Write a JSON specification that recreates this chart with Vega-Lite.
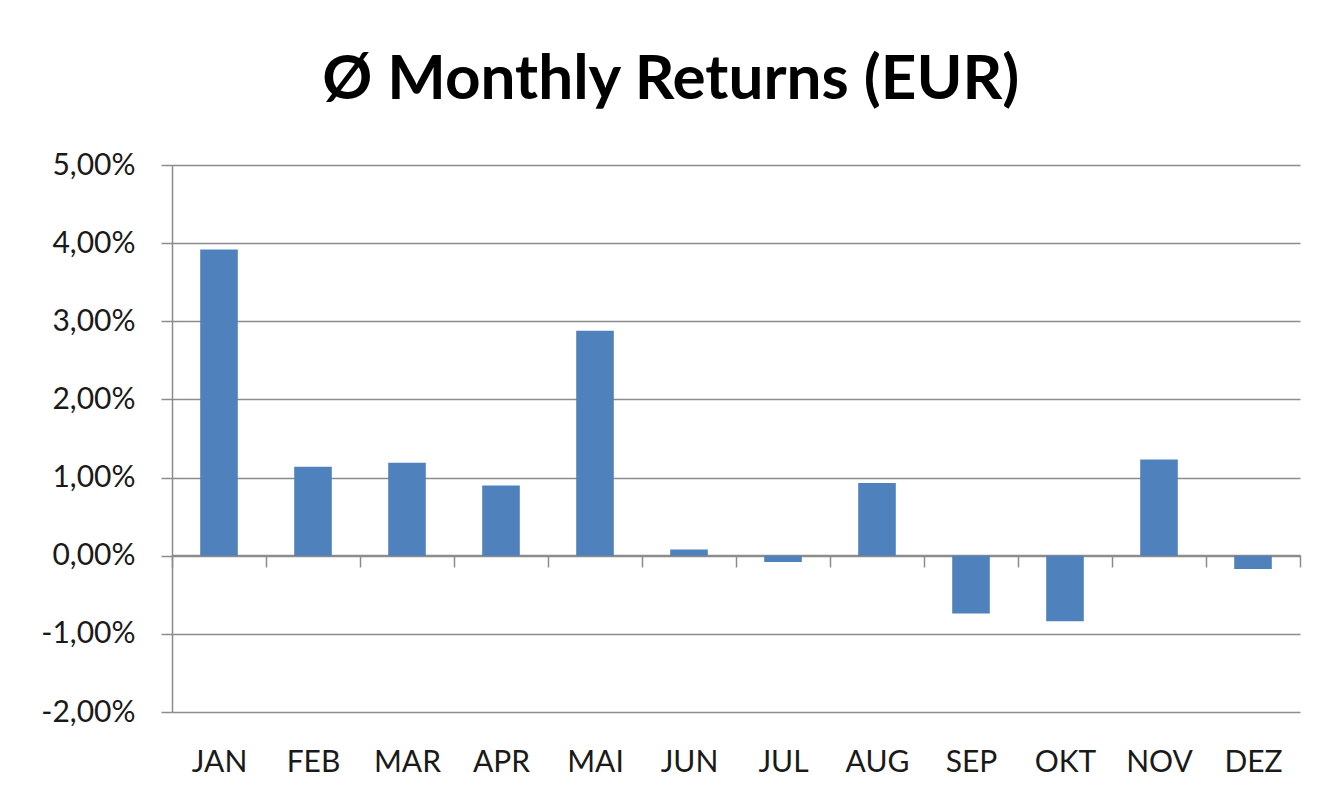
{
  "$schema": "https://vega.github.io/schema/vega-lite/v6.json",
  "width": 1128,
  "height": 547,
  "autosize": {"type": "none"},
  "padding": {"left": 172, "top": 165, "right": 26, "bottom": 86},
  "background": "white",
  "config": {
    "locale": {"number": {"decimal": ",", "thousands": ".", "grouping": [3], "currency": ["", " €"], "minus": "-"}},
    "view": {"stroke": null},
    "font": "Lato"
  },
  "title": {
    "text": "Ø Monthly Returns (EUR)",
    "font": "Lato",
    "fontSize": 62,
    "fontWeight": "bold",
    "color": "#000000",
    "anchor": "middle",
    "frame": "bounds",
    "offset": 38
  },
  "data": {
    "values": [
      {"month": "JAN", "ret": 0.0392},
      {"month": "FEB", "ret": 0.0114},
      {"month": "MAR", "ret": 0.0119},
      {"month": "APR", "ret": 0.0090},
      {"month": "MAI", "ret": 0.0288},
      {"month": "JUN", "ret": 0.0008},
      {"month": "JUL", "ret": -0.0008},
      {"month": "AUG", "ret": 0.0093},
      {"month": "SEP", "ret": -0.0074},
      {"month": "OKT", "ret": -0.0084},
      {"month": "NOV", "ret": 0.0123},
      {"month": "DEZ", "ret": -0.0017}
    ]
  },
  "mark": {"type": "bar", "color": "#4F81BD", "width": {"band": 0.4}},
  "encoding": {
    "x": {
      "field": "month",
      "type": "nominal",
      "sort": null,
      "scale": {"paddingInner": 0, "paddingOuter": 0},
      "axis": {
        "title": null,
        "labelAngle": 0,
        "labelFont": "Lato",
        "labelFontSize": 30,
        "labelColor": "#1a1a1a",
        "offset": -157,
        "domainColor": "#8c8c8c",
        "domainWidth": 1.5,
        "tickColor": "#8c8c8c",
        "tickWidth": 1.5,
        "tickSize": 12,
        "tickBand": "extent",
        "labelPadding": 180,
        "labelBaseline": "top"
      }
    },
    "y": {
      "field": "ret",
      "type": "quantitative",
      "scale": {"domain": [-0.02, 0.05], "nice": false, "zero": false},
      "axis": {
        "title": null,
        "format": ".2%",
        "values": [-0.02, -0.01, 0, 0.01, 0.02, 0.03, 0.04, 0.05],
        "labelOverlap": false,
        "labelFont": "Lato",
        "labelFontSize": 30,
        "labelColor": "#1a1a1a",
        "labelPadding": 26,
        "tickSize": 11,
        "tickColor": "#8c8c8c",
        "tickWidth": 1.5,
        "domainColor": "#8c8c8c",
        "domainWidth": 1.5,
        "grid": true,
        "gridColor": "#8c8c8c",
        "gridWidth": 1.5
      }
    }
  }
}
